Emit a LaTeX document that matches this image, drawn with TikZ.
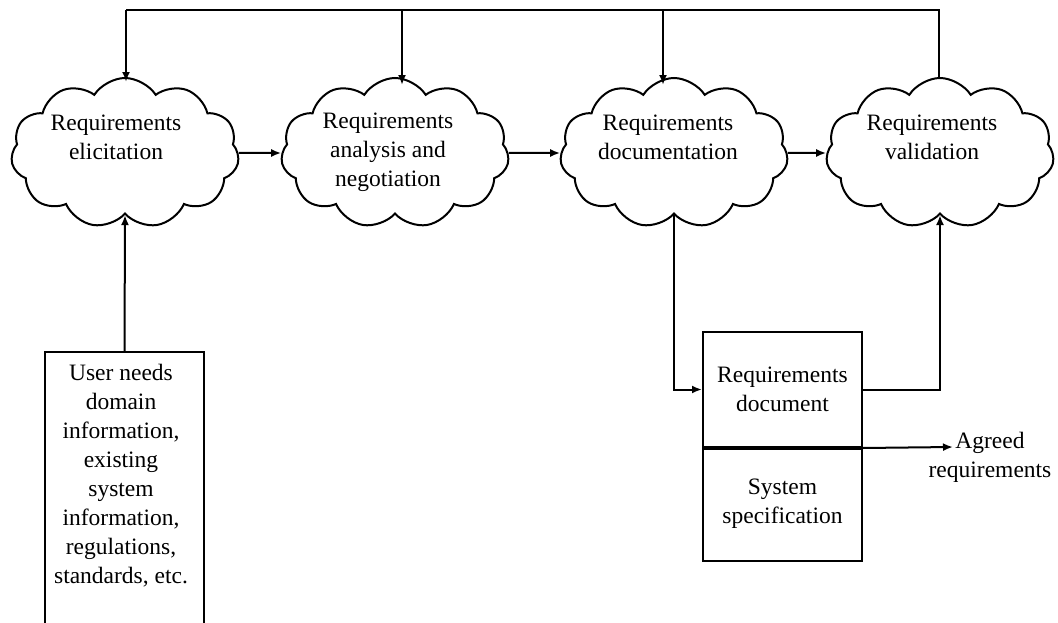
\documentclass[tikz,border=0pt]{standalone}
\usepackage{fontspec}
\setmainfont{Liberation Serif}
\usetikzlibrary{shapes.symbols,arrows.meta}
\begin{document}
\begin{tikzpicture}[x=1pt,y=-1pt,
  every node/.style={font=\fontsize{23.5}{29}\selectfont},
  proc/.style={cloud, draw, line width=2pt, cloud puffs=11, cloud puff arc=115, minimum width=228pt, minimum height=150pt, inner sep=0pt},
  lbl/.style={align=center, inner sep=0pt},
  arr/.style={line width=2pt, -{Latex[length=10pt,width=8pt]}},
  ln/.style={line width=2pt},
  box/.style={draw, line width=2pt, inner sep=0pt, align=center}]
\useasboundingbox (0,0) rectangle (1058,623);
\clip (0,0) rectangle (1058,623);
% process clouds
\node[proc] (c1) at (125,153) {};
\node[proc] (c2) at (395,153) {};
\node[proc] (c3) at (674,153) {};
\node[proc] (c4) at (940,153) {};
\node[lbl] (t1) at (116,137) {Requirements\\elicitation};
\node[lbl] (t2) at (388,152) {Requirements\\analysis and\\negotiation};
\node[lbl] (t3) at (668,137) {Requirements\\documentation};
\node[lbl] (t4) at (932,137) {Requirements\\validation};
% documents
\node[box, minimum width=159pt, minimum height=115pt] (rd) at (782.5,389.5) {Requirements\\document};
\node[box, minimum width=159pt, minimum height=114pt] (ss) at (782.5,504) {System\\specification};
\draw[line width=3.5pt] (rd.south west) -- (rd.south east);
\node[box, minimum width=159pt, minimum height=320pt, anchor=north] (ub) at (124.5,351) {};
\node[lbl] (ut) at (121,476) {User needs\\domain\\information,\\existing\\system\\information,\\regulations,\\standards, etc.};
\node[lbl] (ag) at (990,457) {Agreed\\requirements};
\coordinate (agtip) at (953,447);
% feedback line along the top
\coordinate (k1) at (126,10);
\coordinate (k2) at (402,10);
\coordinate (k3) at (663,10);
\coordinate (k4) at (939,10);
\draw[ln] (c4.north -| k4) -- (k4) -- (k1);
\draw[arr] (k1) -- ([yshift=-5pt]k1 |- c1.north);
\draw[arr] (k2) -- ([yshift=-8pt]k2 |- c2.north);
\draw[arr] (k3) -- ([yshift=-8pt]k3 |- c3.north);
% main flow
\draw[arr] (c1.east) -- (c2.west);
\draw[arr] (c2.east) -- (c3.west);
\draw[arr] (c3.east) -- (c4.west);
\draw[arr] (ub.north) -- (c1.south);
\draw[arr] (c3.south) |- (rd.west);
\draw[arr] (rd.east) -| (c4.south);
\draw[arr] (rd.south east) -- (agtip);
\end{tikzpicture}
\end{document}
